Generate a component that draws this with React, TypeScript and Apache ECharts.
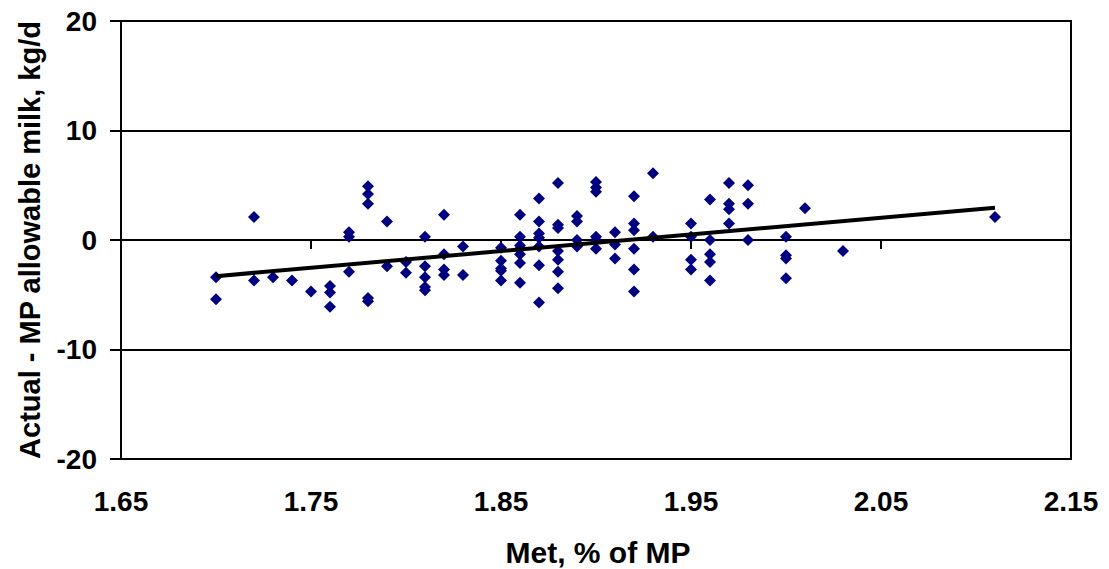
import React, { useEffect, useRef } from "react";
import * as echarts from "echarts";

// Met, % of MP (x) and Actual - MP allowable milk, kg/d (y)
const metPct: number[] = [
  1.70, 1.70,
  1.72, 1.72,
  1.73,
  1.74,
  1.75,
  1.76, 1.76, 1.76,
  1.77, 1.77, 1.77,
  1.78, 1.78, 1.78, 1.78, 1.78,
  1.79, 1.79,
  1.80, 1.80,
  1.81, 1.81, 1.81, 1.81, 1.81,
  1.82, 1.82, 1.82, 1.82,
  1.83, 1.83,
  1.85, 1.85, 1.85, 1.85, 1.85,
  1.86, 1.86, 1.86, 1.86, 1.86, 1.86, 1.86,
  1.87, 1.87, 1.87, 1.87, 1.87, 1.87, 1.87,
  1.88, 1.88, 1.88, 1.88, 1.88, 1.88, 1.88,
  1.89, 1.89, 1.89, 1.89,
  1.90, 1.90, 1.90, 1.90, 1.90, 1.90,
  1.91, 1.91, 1.91,
  1.92, 1.92, 1.92, 1.92, 1.92, 1.92,
  1.93, 1.93,
  1.95, 1.95, 1.95, 1.95,
  1.96, 1.96, 1.96, 1.96, 1.96,
  1.97, 1.97, 1.97, 1.97,
  1.98, 1.98, 1.98,
  2.00, 2.00, 2.00, 2.00,
  2.01,
  2.03,
  2.11,
];
const milkDiff: number[] = [
  -3.4, -5.4,
  2.1, -3.7,
  -3.4,
  -3.7,
  -4.7,
  -4.2, -4.8, -6.1,
  0.7, 0.3, -2.9,
  4.9, 4.2, 3.3, -5.3, -5.6,
  1.7, -2.4,
  -2.0, -3.0,
  0.3, -2.4, -3.4, -4.3, -4.6,
  2.3, -1.3, -2.7, -3.2,
  -0.6, -3.2,
  -0.7, -1.9, -2.6, -2.8, -3.7,
  2.3, 0.3, -0.5, -0.8, -1.3, -2.1, -3.9,
  3.8, 1.7, 0.6, 0.2, -0.6, -2.3, -5.7,
  5.2, 1.4, 1.1, -1.0, -1.8, -2.9, -4.4,
  2.2, 1.7, 0.0, -0.6,
  5.3, 4.8, 4.4, 0.3, 0.0, -0.8,
  0.7, -0.4, -1.7,
  4.0, 1.5, 0.9, -0.8, -2.7, -4.7,
  6.1, 0.3,
  1.5, 0.3, -1.8, -2.7,
  3.7, 0.0, -1.3, -2.0, -3.7,
  5.2, 3.3, 2.8, 1.5,
  5.0, 3.3, 0.0,
  0.3, -1.4, -1.7, -3.5,
  2.9,
  -1.0,
  2.1,
];

// Linear trend line end points
const trendX: number[] = [1.70, 2.11];
const trendY: number[] = [-3.3, 2.95];

// Axis settings
const xMin = 1.65;
const xMax = 2.15;
const xStep = 0.1;
const yMin = -20;
const yMax = 20;
const yStep = 10;

const xTitle = "Met, % of MP";
const yTitle = "Actual - MP allowable milk, kg/d";

const FONT = "'Liberation Sans', Arial, Helvetica, sans-serif";

export default function App() {
  const ref = useRef<HTMLDivElement>(null);

  useEffect(() => {
    if (!ref.current) return;
    const chart = echarts.init(ref.current, undefined, { renderer: "svg" });

    const shift = (v: number) => +(v - xMin).toFixed(4);
    const scatterData = metPct.map((x, i) => [shift(x), milkDiff[i]]);
    const trendData = trendX.map((x, i) => [shift(x), trendY[i]]);
    const span = +(xMax - xMin).toFixed(4);

    const option: echarts.EChartsOption = {
      animation: false,
      backgroundColor: "#ffffff",
      textStyle: { fontFamily: FONT },
      grid: {
        left: 121,
        top: 21,
        width: 950,
        height: 438,
        show: true,
        borderColor: "#000",
        borderWidth: 2,
        backgroundColor: "transparent",
      },
      xAxis: [
        {
          type: "value",
          position: "bottom",
          min: 0,
          max: span,
          interval: xStep,
          axisLine: { show: true, onZero: false, lineStyle: { color: "#000", width: 2 } },
          axisTick: { show: false },
          splitLine: { show: false },
          axisLabel: {
            show: true,
            margin: 28,
            fontSize: 28,
            fontWeight: "bold",
            fontFamily: FONT,
            color: "#000",
            formatter: (v: number) => (v + xMin).toFixed(2),
          },
        },
        {
          type: "value",
          position: "top",
          min: 0,
          max: span,
          interval: xStep,
          axisLine: { show: true, onZero: true, lineStyle: { color: "#000", width: 2 } },
          axisTick: { show: true, inside: true, length: 9, lineStyle: { color: "#000", width: 2 } },
          splitLine: { show: false },
          axisLabel: { show: false },
        },
      ],
      yAxis: {
        type: "value",
        min: yMin,
        max: yMax,
        interval: yStep,
        axisLine: { show: true, lineStyle: { color: "#000", width: 2 } },
        axisTick: { show: true, inside: false, length: 11, lineStyle: { color: "#000", width: 2 } },
        splitLine: { show: true, lineStyle: { color: "#000", width: 2 } },
        axisLabel: {
          margin: 24,
          fontSize: 28,
          fontWeight: "bold",
          fontFamily: FONT,
          color: "#000",
        },
      },
      series: [
        {
          type: "scatter",
          xAxisIndex: 0,
          data: scatterData,
          symbol: "diamond",
          symbolSize: 12,
          itemStyle: { color: "#000080", opacity: 1 },
          z: 3,
        },
        {
          type: "line",
          xAxisIndex: 0,
          data: trendData,
          symbol: "none",
          lineStyle: { color: "#000", width: 4 },
          z: 4,
        },
      ],
      graphic: [
        {
          type: "text",
          x: 598,
          y: 552,
          style: {
            text: xTitle,
            font: `bold 30px ${FONT}`,
            fill: "#000",
            align: "center",
            verticalAlign: "middle",
          },
        },
        {
          type: "text",
          x: 30,
          y: 240,
          rotation: Math.PI / 2,
          style: {
            text: yTitle,
            font: `bold 29px ${FONT}`,
            fill: "#000",
            align: "center",
            verticalAlign: "middle",
          },
        },
      ],
    };

    chart.setOption(option);
    return () => {
      chart.dispose();
    };
  }, []);

  return (
    <div
      ref={ref}
      style={{ position: "absolute", left: 0, top: 0, width: 1109, height: 569, background: "#fff" }}
    />
  );
}
